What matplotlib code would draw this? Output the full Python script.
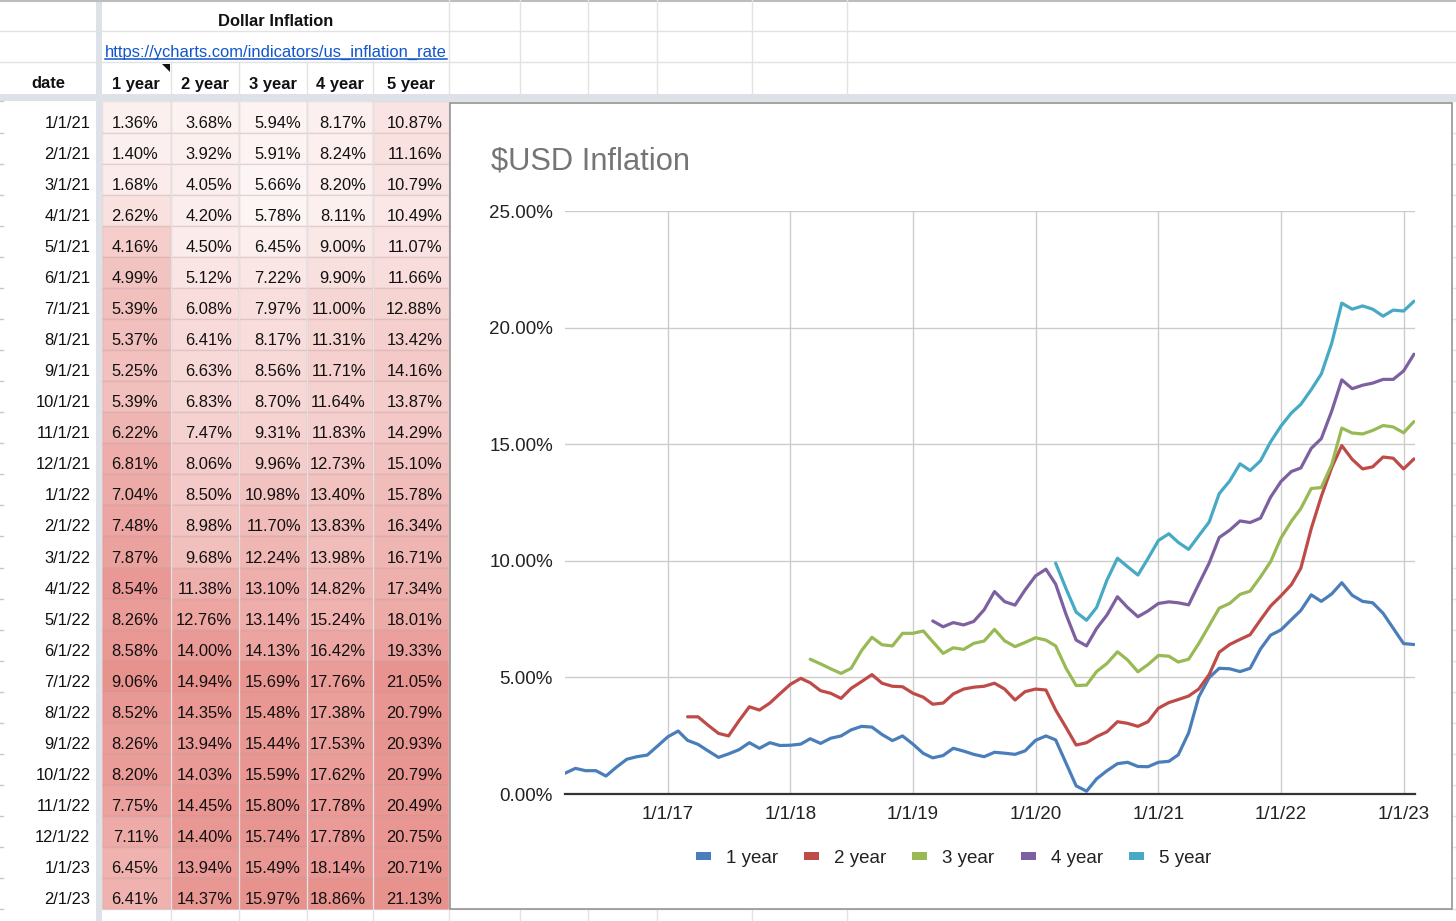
import numpy as np
import pandas as pd
import matplotlib
matplotlib.use("Agg")
import matplotlib.pyplot as plt
from matplotlib.patches import Rectangle, Polygon, Patch
from matplotlib.colors import to_rgb

plt.rcParams['font.family'] = ['Liberation Sans', 'DejaVu Sans']

# ---------------- data ----------------
dates = pd.date_range('2016-03-01', '2023-02-01', freq='MS')   # 84 monthly points

# values (history before the visible table rows)
hist_1y = [0.89, 1.10, 1.00, 1.00, 0.77, 1.15, 1.49, 1.60, 1.67, 2.05,
           2.45, 2.70, 2.30, 2.13, 1.85, 1.57, 1.72, 1.90, 2.20, 1.96,
           2.20, 2.08, 2.09, 2.14, 2.37, 2.17, 2.39, 2.49, 2.75, 2.90,
           2.87, 2.55, 2.29, 2.49, 2.14, 1.74, 1.55, 1.65, 1.96, 1.84,
           1.70, 1.60, 1.79, 1.75, 1.70, 1.85, 2.30, 2.49, 2.32, 1.32,
           0.35, 0.12, 0.65, 1.00, 1.30, 1.36, 1.18, 1.17]
hist_2y = [3.31, 3.31, 2.95, 2.60, 2.49, 3.14, 3.74, 3.60, 3.90, 4.30,
           4.70, 4.96, 4.77, 4.43, 4.32, 4.10, 4.53, 4.82, 5.12, 4.75,
           4.62, 4.60, 4.32, 4.15, 3.85, 3.90, 4.29, 4.50, 4.58, 4.62,
           4.75, 4.50, 4.03, 4.39, 4.50, 4.46, 3.60, 2.85, 2.10, 2.20,
           2.46, 2.67, 3.10, 3.03, 2.90, 3.10]
hist_3y = [5.78, 5.58, 5.37, 5.17, 5.39, 6.15, 6.72, 6.40, 6.35, 6.89,
           6.89, 6.99, 6.53, 6.03, 6.27, 6.20, 6.46, 6.56, 7.06, 6.57,
           6.32, 6.50, 6.70, 6.60, 6.35, 5.39, 4.65, 4.67, 5.25, 5.60,
           6.10, 5.75, 5.24, 5.55]
hist_4y = [7.42, 7.17, 7.35, 7.25, 7.40, 7.90, 8.68, 8.25, 8.10, 8.75,
           9.35, 9.64, 9.00, 7.70, 6.60, 6.35, 7.10, 7.68, 8.46, 8.00,
           7.60, 7.85]
hist_5y = [9.90, 8.80, 7.80, 7.45, 8.00, 9.18, 10.11, 9.75, 9.39, 10.10]

# values shown in the spreadsheet (1/1/21 .. 2/1/23)
tab_1y = [1.36, 1.40, 1.68, 2.62, 4.16, 4.99, 5.39, 5.37, 5.25, 5.39, 6.22, 6.81, 7.04,
          7.48, 7.87, 8.54, 8.26, 8.58, 9.06, 8.52, 8.26, 8.20, 7.75, 7.11, 6.45, 6.41]
tab_2y = [3.68, 3.92, 4.05, 4.20, 4.50, 5.12, 6.08, 6.41, 6.63, 6.83, 7.47, 8.06, 8.50,
          8.98, 9.68, 11.38, 12.76, 14.00, 14.94, 14.35, 13.94, 14.03, 14.45, 14.40, 13.94, 14.37]
tab_3y = [5.94, 5.91, 5.66, 5.78, 6.45, 7.22, 7.97, 8.17, 8.56, 8.70, 9.31, 9.96, 10.98,
          11.70, 12.24, 13.10, 13.14, 14.13, 15.69, 15.48, 15.44, 15.59, 15.80, 15.74, 15.49, 15.97]
tab_4y = [8.17, 8.24, 8.20, 8.11, 9.00, 9.90, 11.00, 11.31, 11.71, 11.64, 11.83, 12.73, 13.40,
          13.83, 13.98, 14.82, 15.24, 16.42, 17.76, 17.38, 17.53, 17.62, 17.78, 17.78, 18.14, 18.86]
tab_5y = [10.87, 11.16, 10.79, 10.49, 11.07, 11.66, 12.88, 13.42, 14.16, 13.87, 14.29, 15.10, 15.78,
          16.34, 16.71, 17.34, 18.01, 19.33, 21.05, 20.79, 20.93, 20.79, 20.49, 20.75, 20.71, 21.13]

series_names = ['1 year', '2 year', '3 year', '4 year', '5 year']
series_colors = ['#4a7ebb', '#be4b48', '#98b954', '#7d60a0', '#46aac5']
hist = [hist_1y, hist_2y, hist_3y, hist_4y, hist_5y]
table = [tab_1y, tab_2y, tab_3y, tab_4y, tab_5y]

table_dates = [f"{d.month}/{d.day}/{d.year % 100}" for d in dates[-26:]]
tick_years = [2017, 2018, 2019, 2020, 2021, 2022, 2023]
tick_labels = [f"1/1/{y % 100}" for y in tick_years]
y_ticks = [0, 5, 10, 15, 20, 25]

# ---------------- figure / spreadsheet ----------------
W, H = 1456, 921
fig = plt.figure(figsize=(W / 100, H / 100), dpi=100)
bg = fig.add_axes([0, 0, 1, 1])
bg.set_xlim(0, W)
bg.set_ylim(H, 0)
bg.axis('off')

grid_c = '#e2e2e2'
band_c = '#dde1e8'
FS = 11.9
txt_c = '#111111'

# top border
bg.plot([0, W], [0.8, 0.8], color='#bdbdbd', lw=1.5)
# header row lines
for yy in (31.5, 62.5):
    bg.plot([0, W], [yy, yy], color=grid_c, lw=1)
# vertical grid lines
col_edges = [101.5, 170.7, 239.0, 307.3, 372.7, 448.5]
for xx in col_edges[1:-1]:
    bg.plot([xx, xx], [62.5, H], color=grid_c, lw=1)
for xx in [448.5, 520, 588, 657, 752, 847]:
    bg.plot([xx, xx], [0, H], color=grid_c, lw=1)

# data rows
row_top0, rh = 101.5, 31.07
all_vals = [h + t for h, t in zip(hist, table)]
max_rgb = np.array(to_rgb('#e8928e'))
white = np.array([1.0, 1.0, 1.0])
for j in range(5):
    vmin, vmax = min(all_vals[j]), max(all_vals[j])
    for i, v in enumerate(table[j]):
        t = (v - vmin) / (vmax - vmin)
        col = white * (1 - t) + max_rgb * t
        top = row_top0 + i * rh
        bg.add_patch(Rectangle((col_edges[j], top), col_edges[j + 1] - col_edges[j], rh,
                               facecolor=col, edgecolor=(0.55, 0.40, 0.40, 0.16), lw=1))
for i in range(27):
    yy = row_top0 + i * rh
    bg.plot([448.5, W], [yy, yy], color=grid_c, lw=1)
    bg.plot([0, 3], [yy, yy], color='#c8c8c8', lw=1)

# frozen dividers
bg.add_patch(Rectangle((0, 94), W, 7, facecolor=band_c, edgecolor='none'))
bg.add_patch(Rectangle((95.5, 0), 6, H, facecolor=band_c, edgecolor='none'))

# header texts
bg.text(275.5, 26, 'Dollar Inflation', fontsize=FS, fontweight='bold', color=txt_c,
        ha='center', va='baseline')
link = bg.text(105, 57, 'https://ycharts.com/indicators/us_inflation_rate', fontsize=FS,
               color='#1155cc', ha='left', va='baseline')
bg.text(48.5, 88.5, 'date', fontsize=FS, fontweight='bold', color=txt_c, ha='center', va='baseline')
centers = [(col_edges[k] + col_edges[k + 1]) / 2 for k in range(5)]
for k, name in enumerate(series_names):
    bg.text(centers[k], 88.5, name, fontsize=FS, fontweight='bold', color=txt_c,
            ha='center', va='baseline')
bg.add_patch(Polygon([[162, 64], [170, 64], [170, 72]], closed=True, facecolor='#111111',
                     edgecolor='none'))

right_x = [158.5, 232.3, 301.0, 366.0, 442.3]
for i in range(26):
    base = row_top0 + (i + 1) * rh - 5.0
    bg.text(90.5, base, table_dates[i], fontsize=FS, color=txt_c, ha='right', va='baseline')
    for j in range(5):
        bg.text(right_x[j], base, f"{table[j][i]:.2f}%", fontsize=FS, color=txt_c,
                ha='right', va='baseline')

# underline of link
fig.canvas.draw()
bb = link.get_window_extent(renderer=fig.canvas.get_renderer())
inv = bg.transData.inverted()
(x0, _), (x1, _) = inv.transform([[bb.x0, bb.y0], [bb.x1, bb.y1]])
bg.plot([x0, x1], [59.3, 59.3], color='#1155cc', lw=1.1)

# chart box
bg.add_patch(Rectangle((450, 103), 1002, 806, facecolor='white', edgecolor='#8c8c8c',
                       lw=1.1, zorder=5))
bg.text(491, 170, r'\$USD Inflation', fontsize=22.2, color='#757575', ha='left',
        va='baseline', zorder=6)

# ---------------- chart ----------------
ax = fig.add_axes([565 / W, 1 - 794 / H, 850 / W, 583 / H])
ax.set_zorder(3)
ax.set_facecolor('none')
starts = [0, 12, 24, 36, 48]
for k in range(5):
    vals = hist[k] + table[k]
    ax.plot(dates[starts[k]:], vals, color=series_colors[k], lw=2.3,
            solid_joinstyle='round', solid_capstyle='round')

ax.set_xlim(dates[0], dates[-1] + pd.Timedelta(days=3))
ax.set_ylim(0, 25)
ax.set_xticks([pd.Timestamp(f'{y}-01-01') for y in tick_years])
ax.set_xticklabels(tick_labels)
ax.set_yticks(y_ticks)
ax.set_yticklabels([f"{v:.2f}%" for v in y_ticks])
ax.tick_params(axis='both', length=0, labelsize=13.5, colors='#222222')
ax.tick_params(axis='x', pad=8.6)
ax.tick_params(axis='y', pad=8.6)
ax.grid(True, color='#cccccc', lw=1.0)
ax.set_axisbelow(True)
for s in ('top', 'right', 'left'):
    ax.spines[s].set_visible(False)
ax.spines['bottom'].set_color('#333333')
ax.spines['bottom'].set_linewidth(1.6)

handles = [Patch(facecolor=c, edgecolor='none') for c in series_colors]
ax.legend(handles, series_names, loc='center', bbox_to_anchor=(953.5 / W, 1 - 858 / H),
          bbox_transform=fig.transFigure, ncol=5, frameon=False, fontsize=13.5,
          handlelength=0.8, handleheight=0.32, handletextpad=0.8, columnspacing=1.39,
          labelcolor='#222222')

fig.savefig('out.png', dpi=100)
